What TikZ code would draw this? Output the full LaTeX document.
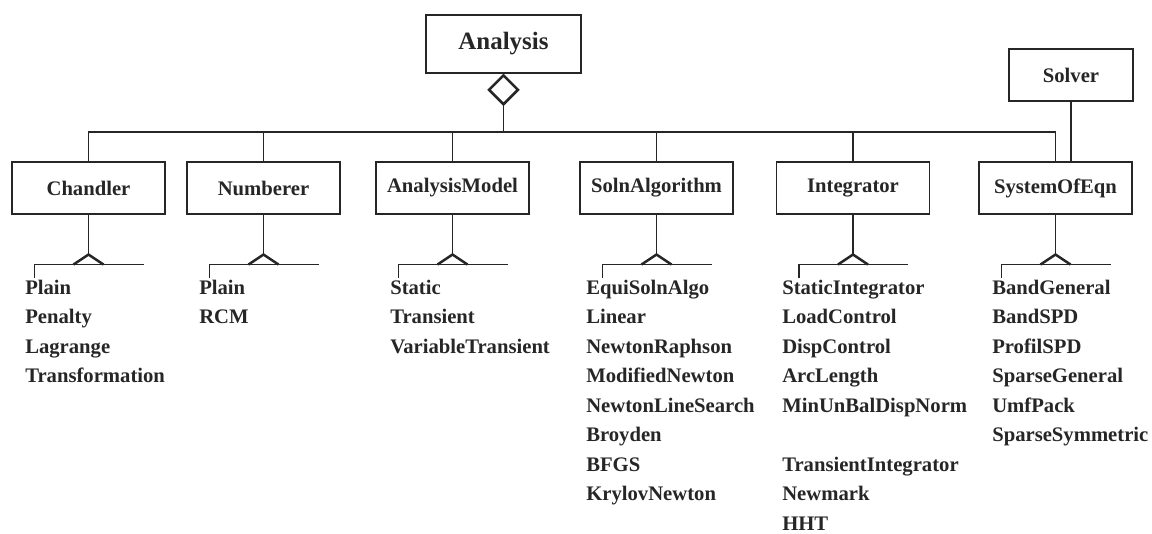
\documentclass[tikz,border=0pt]{standalone}
\usepackage{fontspec}
\setmainfont{Liberation Serif}
\usetikzlibrary{calc,shapes.geometric}
\tikzset{
  thinline/.style={line width=0.8pt, black!85},
  thickline/.style={line width=1.9pt, black!85, line join=miter},
  cls/.style={draw, thinline, minimum width=114.75pt, minimum height=39pt, inner sep=0pt,
              font=\fontsize{15.5}{18}\selectfont\bfseries, text=black!85},
  agg/.style={diamond, draw, thickline, minimum width=22.5pt, minimum height=22.5pt, inner sep=0pt, fill=white},
  item/.style={anchor=base west, inner sep=0pt, font=\fontsize{15.5}{18}\selectfont\bfseries, text=black!85},
}
\begin{document}
\begin{tikzpicture}[x=0.75pt, y=-0.75pt]
\useasboundingbox (0,0) rectangle (1152,533);
% top classes
\node[cls, minimum width=116.25pt, minimum height=43.5pt, font=\fontsize{18.7}{22}\selectfont\bfseries] (analysis) at (503.5,44) {Analysis};
\node[cls, minimum width=93pt] (solver) at (1071,75) {Solver};
\node[agg, anchor=north] (agg) at (analysis.south) {};
% second row
\node[cls] (chandler) at (88.5,188) {Chandler};
\node[cls] (numberer) at (263.5,188) {Numberer};
\node[cls] (amodel) at (452.5,188) {AnalysisModel};
\node[cls] (soln) at (656.5,188) {SolnAlgorithm};
\node[cls] (integ) at (853,188) {Integrator};
\node[cls] (soe) at (1055.5,188) {SystemOfEqn};
% bus
\coordinate (bus) at (agg.south |- 0,132);
\draw[thinline] (agg.south) -- (bus);
\draw[thinline] (chandler.north) -- (chandler.north |- bus) -- (soe.north |- bus) -- (soe.north);
\foreach \b in {numberer,amodel,soln,integ}
  \draw[thinline] (\b.north) -- (\b.north |- bus);
\draw[thinline] (solver.south) -- (solver.south |- soe.north);
% inheritance chevrons
\foreach \b in {chandler,numberer,amodel,soln,integ,soe}{
  \draw[thinline] (\b.south) -- ++(0,40) coordinate (\b-apex);
  \draw[thinline] ($(\b-apex)+(-54,23)$) -- ++(0,-13) -- ++(109,0);
  \draw[thickline] ($(\b-apex)+(-15,10)$) -- (\b-apex) -- ++(15,10);
}
% lists
\foreach \t [count=\i] in {Plain,Penalty,Lagrange,Transformation}
  \node[item] (ch\i) at (25,{294+(\i-1)*29.5}) {\t};
\foreach \t [count=\i] in {Plain,RCM}
  \node[item] (nu\i) at (199,{294+(\i-1)*29.5}) {\t};
\foreach \t [count=\i] in {Static,Transient,VariableTransient}
  \node[item] (am\i) at (390,{294+(\i-1)*29.5}) {\t};
\foreach \t [count=\i] in {EquiSolnAlgo,Linear,NewtonRaphson,ModifiedNewton,NewtonLineSearch,Broyden,BFGS,KrylovNewton}
  \node[item] (sa\i) at (586,{294+(\i-1)*29.5}) {\t};
\foreach \t [count=\i] in {StaticIntegrator,LoadControl,DispControl,ArcLength,MinUnBalDispNorm}
  \node[item] (in\i) at (782,{294+(\i-1)*29.5}) {\t};
\foreach \t [count=\i] in {TransientIntegrator,Newmark,HHT}
  \node[item] (it\i) at (782,{294+(\i+5)*29.5}) {\t};
\foreach \t [count=\i] in {BandGeneral,BandSPD,ProfilSPD,SparseGeneral,UmfPack,SparseSymmetric}
  \node[item] (se\i) at (992,{294+(\i-1)*29.5}) {\t};
\end{tikzpicture}
\end{document}
